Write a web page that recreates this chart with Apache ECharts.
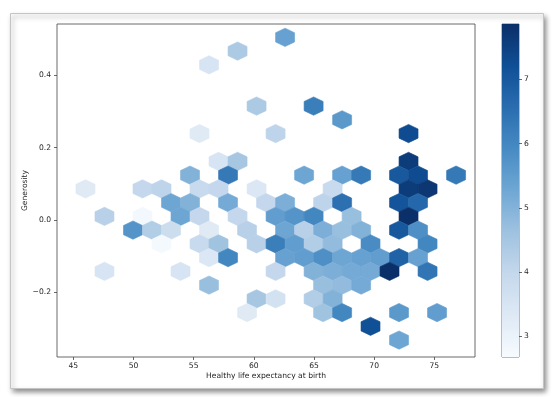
<!DOCTYPE html>
<html>
<head>
<meta charset="utf-8">
<script src="https://cdn.jsdelivr.net/npm/echarts@6/dist/echarts.min.js"></script>
<style>
html, body { margin: 0; padding: 0; background: #fff; }
#chart { width: 554px; height: 397px; }
</style>
</head>
<body>
<div id="chart"></div>
<script>
// hexbin cells: centre (life expectancy, generosity) and mean value of the cell
var hexX = [
    62.60, 58.65, 56.28, 60.23, 64.97, 67.34,
    55.49, 61.81, 72.86,
    57.07, 58.65, 72.86,
    54.70, 57.86, 64.18, 67.34, 68.92, 72.07, 73.65, 76.81,
    46.01, 50.75, 52.33, 55.49, 57.07, 60.23, 66.55, 72.86, 74.44,
    53.12, 54.70, 57.86, 61.02, 62.60, 65.76, 67.34, 72.07, 73.65,
    47.59, 50.75, 53.91, 55.49, 58.65, 61.81, 63.39, 64.97, 68.13, 72.86,
    49.96, 51.54, 53.12, 56.28, 59.44, 62.60, 64.18, 65.76, 67.34, 68.92, 72.07, 73.65,
    52.33, 55.49, 57.07, 60.23, 61.81, 63.39, 64.97, 66.55, 69.70, 74.44,
    56.28, 57.86, 62.60, 64.18, 65.76, 67.34, 68.92, 70.49, 72.07, 73.65,
    47.59, 53.91, 61.81, 64.97, 66.55, 68.13, 69.70, 71.28, 74.44,
    56.28, 65.76, 67.34, 68.92,
    60.23, 61.81, 64.97, 66.55,
    59.44, 65.76, 67.34, 72.07, 75.23,
    69.70,
    72.07
];
var hexY = [
    0.505, 0.467, 0.429, 0.315, 0.315, 0.277,
    0.239, 0.239, 0.239,
    0.162, 0.162, 0.162,
    0.124, 0.124, 0.124, 0.124, 0.124, 0.124, 0.124, 0.124,
    0.086, 0.086, 0.086, 0.086, 0.086, 0.086, 0.086, 0.086, 0.086,
    0.048, 0.048, 0.048, 0.048, 0.048, 0.048, 0.048, 0.048, 0.048,
    0.010, 0.010, 0.010, 0.010, 0.010, 0.010, 0.010, 0.010, 0.010, 0.010,
    -0.028, -0.028, -0.028, -0.028, -0.028, -0.028, -0.028, -0.028, -0.028, -0.028, -0.028, -0.028,
    -0.066, -0.066, -0.066, -0.066, -0.066, -0.066, -0.066, -0.066, -0.066, -0.066,
    -0.104, -0.104, -0.104, -0.104, -0.104, -0.104, -0.104, -0.104, -0.104, -0.104,
    -0.142, -0.142, -0.142, -0.142, -0.142, -0.142, -0.142, -0.142, -0.142,
    -0.180, -0.180, -0.180, -0.180,
    -0.218, -0.218, -0.218, -0.218,
    -0.256, -0.256, -0.256, -0.256, -0.256,
    -0.294,
    -0.332
];
var hexValue = [
    5.4, 4.4, 3.5, 4.4, 6.2, 5.6,
    3.3, 4.1, 7.3,
    3.5, 4.5, 7.6,
    5.0, 6.3, 5.3, 5.4, 6.3, 7.0, 7.3, 6.3,
    3.3, 4.0, 4.1, 3.9, 4.0, 3.4, 3.9, 7.6, 7.7,
    5.3, 5.0, 5.2, 4.0, 5.1, 4.1, 6.5, 7.1, 6.7,
    4.2, 2.8, 5.3, 4.0, 4.0, 5.5, 5.7, 6.0, 4.7, 7.86,
    5.7, 4.3, 3.8, 3.3, 4.2, 5.3, 4.2, 5.1, 4.7, 5.0, 7.0, 5.8,
    2.75, 3.9, 4.6, 4.2, 6.2, 5.5, 4.3, 4.8, 5.9, 6.0,
    3.4, 6.0, 5.4, 5.5, 5.8, 5.3, 5.4, 5.5, 6.8, 5.4,
    3.5, 3.5, 4.0, 5.0, 5.1, 5.2, 5.2, 7.86, 6.4,
    4.7, 4.7, 4.8, 5.2,
    4.5, 3.6, 4.3, 5.0,
    3.3, 4.6, 6.0, 5.6, 5.5,
    7.2,
    5.3
];

var xTicks = [45, 50, 55, 60, 65, 70, 75];
var yTicks = [-0.2, 0.0, 0.2, 0.4];
var cbarTicks = [3, 4, 5, 6, 7];
var valueMin = 2.68, valueMax = 7.86;

var binW = 1.579, binH = 0.0760;   // hexbin cell size (data units)
// Blues, a little toned down like the screenshot
var blues = ['#f7fbff', '#dee9f5', '#c5d8ec', '#9fc2e0', '#6fa7d4',
             '#478bc3', '#2a6daf', '#0f4f96', '#0b2f68'];

var cells = hexX.map(function (x, i) { return [x, hexY[i], hexValue[i]]; });
var hexShape = [[0.5, -1 / 6], [0.5, 1 / 6], [0, 1 / 3], [-0.5, 1 / 6], [-0.5, -1 / 6], [0, -1 / 3]];

var textColor = '#262626';
var fontSize = 7.6;
var font = 'DejaVu Sans';

function fmt(v) {
    return v.toFixed(1).replace('-', '\u2212');
}

var myChart = echarts.init(document.getElementById('chart'));
var option = {
    animation: false,
    backgroundColor: '#fff',
    textStyle: { fontFamily: font },
    graphic: [{
        type: 'rect', left: 10, top: 13, z: -10,
        shape: { width: 533, height: 375 },
        style: {
            fill: '#fff', stroke: '#c4c4c4', lineWidth: 1,
            shadowBlur: 5, shadowOffsetX: 2, shadowOffsetY: 3,
            shadowColor: 'rgba(0,0,0,0.45)'
        }
    }],
    grid: [
        { left: 57, top: 24, width: 418, height: 333, show: true, borderColor: '#444', borderWidth: 0.8 },
        { left: 502, top: 24, width: 17, height: 333, show: true, borderColor: '#555', borderWidth: 0.8 }
    ],
    xAxis: [{
        type: 'value', gridIndex: 0, min: 43.645, max: 78.383,
        name: 'Healthy life expectancy at birth', nameLocation: 'middle', nameGap: 15,
        nameMoveOverlap: false,
        nameTextStyle: { color: textColor, fontSize: fontSize, fontFamily: font },
        axisLine: { show: false, onZero: false },
        splitLine: { show: false },
        axisTick: { length: 3, customValues: xTicks, lineStyle: { color: '#444', width: 0.8 } },
        axisLabel: { customValues: xTicks, margin: 5, color: textColor, fontSize: fontSize, fontFamily: font }
    }, {
        type: 'value', gridIndex: 1, min: 0, max: 1, show: false
    }],
    yAxis: [{
        type: 'value', gridIndex: 0, min: -0.3788, max: 0.5419,
        name: 'Generosity', nameLocation: 'middle', nameGap: 28, nameRotate: 90,
        nameMoveOverlap: false,
        nameTextStyle: { color: textColor, fontSize: fontSize, fontFamily: font },
        axisLine: { show: false, onZero: false },
        splitLine: { show: false },
        axisTick: { length: 3, customValues: yTicks, lineStyle: { color: '#444', width: 0.8 } },
        axisLabel: { customValues: yTicks, margin: 6, color: textColor, fontSize: fontSize, fontFamily: font, formatter: fmt }
    }, {
        type: 'value', gridIndex: 1, position: 'right', min: valueMin, max: valueMax,
        axisLine: { show: false, onZero: false },
        splitLine: { show: false },
        axisTick: { length: 3, customValues: cbarTicks, lineStyle: { color: '#444', width: 0.8 } },
        axisLabel: { customValues: cbarTicks, margin: 5, color: textColor, fontSize: fontSize, fontFamily: font }
    }],
    visualMap: {
        show: false, seriesIndex: 0, dimension: 2,
        min: valueMin, max: valueMax,
        inRange: { color: blues }
    },
    series: [{
        type: 'custom',
        xAxisIndex: 0, yAxisIndex: 0,
        data: cells,
        renderItem: function (params, api) {
            var cx = api.value(0), cy = api.value(1);
            var pts = hexShape.map(function (d) {
                return api.coord([cx + d[0] * binW, cy + d[1] * binH]);
            });
            var c = api.visual('color');
            return {
                type: 'polygon',
                shape: { points: pts },
                style: { fill: c, stroke: c, lineWidth: 0.6 }
            };
        }
    }, {
        // colour bar
        type: 'custom',
        xAxisIndex: 1, yAxisIndex: 1,
        data: [[0, valueMax]],
        renderItem: function (params, api) {
            var p0 = api.coord([0, valueMax]);
            var p1 = api.coord([1, valueMin]);
            var stops = blues.slice().reverse().map(function (col, i) {
                return { offset: i / (blues.length - 1), color: col };
            });
            return {
                type: 'rect',
                shape: { x: p0[0], y: p0[1], width: p1[0] - p0[0], height: p1[1] - p0[1] },
                style: { fill: new echarts.graphic.LinearGradient(0, 0, 0, 1, stops) }
            };
        }
    }]
};
myChart.setOption(option);
</script>
</body>
</html>
